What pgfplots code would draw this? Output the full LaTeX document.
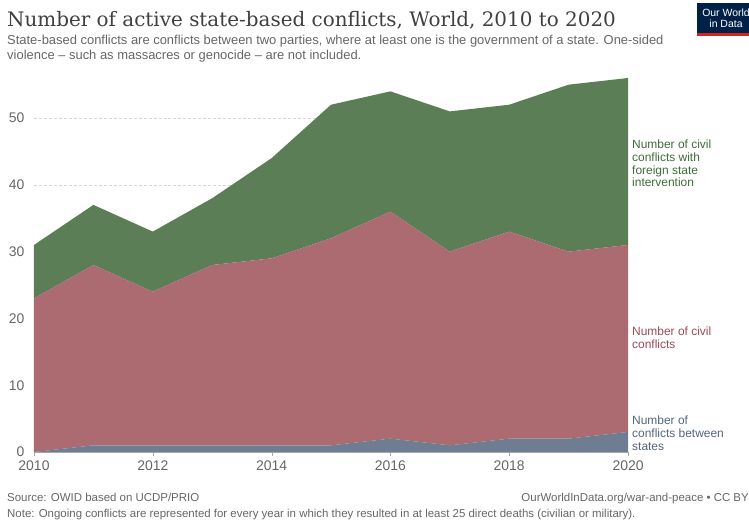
\documentclass[border=0pt]{standalone}
\usepackage{pgfplots}
\pgfplotsset{compat=1.18}
\usepackage{fontspec}
\setmainfont{Liberation Sans}
\newfontfamily\titlefont{DejaVu Serif}
\definecolor{cgreen}{HTML}{5C7E56}
\definecolor{cred}{HTML}{AB6B71}
\definecolor{cblue}{HTML}{6E7D92}
\definecolor{tgreen}{HTML}{3F6B3A}
\definecolor{tred}{HTML}{9A4A55}
\definecolor{tblue}{HTML}{55657C}
\definecolor{owidnavy}{HTML}{002147}
\definecolor{owidred}{HTML}{CE261E}
\definecolor{txtgray}{HTML}{666666}
\begin{document}
\begin{tikzpicture}[x=1bp,y=1bp]
\path[use as bounding box] (-34,-71) rectangle (715,452);
\begin{axis}[
  at={(0,0)}, anchor=south west,
  scale only axis, width=594bp, height=374bp,
  xmin=2010, xmax=2020, ymin=0, ymax=56,
  stack plots=y,
  axis x line*=bottom, axis y line*=left,
  y axis line style={draw=none},
  x axis line style={draw=gray!70},
  xtick={2010,2012,...,2020},
  ytick={0,10,...,50},
  ymajorgrids, grid style={densely dashed, gray!30},
  xtick style={draw=gray!70}, ytick style={draw=none},
  tick align=outside, major tick length=4bp,
  /pgf/number format/assume math mode=true,
  /pgf/number format/1000 sep={},
  ticklabel style={font=\fontsize{14}{14}\selectfont, text=txtgray},
  yticklabel style={xshift=-2bp},
  xticklabel style={yshift=-1bp},
]
\addplot[fill=cblue, draw=none] coordinates {(2010,0) (2011,1) (2012,1) (2013,1) (2014,1) (2015,1) (2016,2) (2017,1) (2018,2) (2019,2) (2020,3)} \closedcycle;
\addplot[fill=cred, draw=none] coordinates {(2010,23) (2011,27) (2012,23) (2013,27) (2014,28) (2015,31) (2016,34) (2017,29) (2018,31) (2019,28) (2020,28)} \closedcycle;
\addplot[fill=cgreen, draw=none] coordinates {(2010,8) (2011,9) (2012,9) (2013,10) (2014,15) (2015,20) (2016,18) (2017,21) (2018,19) (2019,25) (2020,25)} \closedcycle;
\end{axis}
% titles
\node[anchor=base west, inner sep=0, text=black!75] at (-27,425) {\titlefont\fontsize{20}{20}\selectfont Number of active state-based conflicts, World, 2010 to 2020};
\node[anchor=base west, inner sep=0, text=txtgray] at (-27,407) {\fontsize{13}{13}\selectfont State-based conflicts are conflicts between two parties, where at least one is the government of a state. One-sided};
\node[anchor=base west, inner sep=0, text=txtgray] at (-27,392) {\fontsize{13}{13}\selectfont violence -- such as massacres or genocide -- are not included.};
% logo
\fill[owidnavy] (663,416) rectangle (715,449);
\fill[owidred] (663,416) rectangle (715,419);
\node[text=white, align=center, inner sep=0, font=\fontsize{10.5}{11}\selectfont] at (692,434) {Our World\\in Data};
% right labels
\node[anchor=north west, inner sep=0, align=left, text=tgreen, font=\fontsize{12}{12.7}\selectfont] at (598,312) {Number of civil\\conflicts with\\foreign state\\intervention};
\node[anchor=north west, inner sep=0, align=left, text=tred, font=\fontsize{12}{12.7}\selectfont] at (598,125) {Number of civil\\conflicts};
\node[anchor=north west, inner sep=0, align=left, text=tblue, font=\fontsize{12}{12.7}\selectfont] at (598,36) {Number of\\conflicts between\\states};
% footer
\node[anchor=base west, inner sep=0, text=txtgray] at (-27,-50) {\fontsize{11.5}{11.5}\selectfont Source: OWID based on UCDP/PRIO};
\node[anchor=base east, inner sep=0, text=txtgray] at (715,-50) {\fontsize{11.5}{11.5}\selectfont OurWorldInData.org/war-and-peace • CC BY};
\node[anchor=base west, inner sep=0, text=txtgray] at (-27,-66) {\fontsize{11.5}{11.5}\selectfont Note: Ongoing conflicts are represented for every year in which they resulted in at least 25 direct deaths (civilian or military).};
\end{tikzpicture}
\end{document}
